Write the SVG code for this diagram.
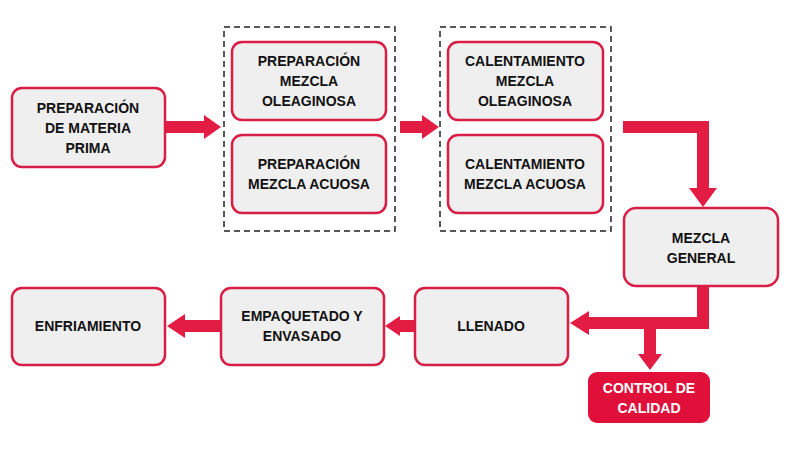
<svg xmlns="http://www.w3.org/2000/svg" width="800" height="450" viewBox="0 0 800 450">
<style>
.n{fill:#efefef;stroke:#d81e45;stroke-width:2.5}
.t{font-family:"Liberation Sans",Arial,sans-serif;font-weight:bold;font-size:14px;fill:#111;text-anchor:middle}
.w{fill:#fff}
.d{fill:none;stroke:#222;stroke-width:1.5;stroke-dasharray:6,4}
.c{fill:none;stroke:#e31c44;stroke-width:12}
.h{fill:#e31c44}
</style>
<rect width="800" height="450" fill="#fff"/>
<g id="groups">
<rect class="d" x="224" y="27" width="171" height="204"/>
<rect class="d" x="440" y="27" width="171" height="204"/>
</g>
<g id="connectors">
<path class="c" d="M165 127H206"/><polygon class="h" points="204,115 221,127 204,139"/>
<path class="c" d="M400 127H424"/><polygon class="h" points="422,115 439,127 422,139"/>
<path class="c" d="M623 127H703V190"/><polygon class="h" points="689,188 717,188 703,207"/>
<path class="c" d="M703 286V323H587"/><polygon class="h" points="589,311 570,323 589,335"/>
<path class="c" d="M650 323V355"/><polygon class="h" points="638,354 662,354 650,370"/>
<path class="c" d="M415 326H398"/><polygon class="h" points="400,316 385,326 400,336"/>
<path class="c" d="M221 326H183"/><polygon class="h" points="185,314 167,326 185,338"/>
</g>
<g id="n1"><rect class="n" x="12" y="88" width="153" height="79" rx="10"/><text class="t" x="88" y="113">PREPARACIÓN</text><text class="t" x="88" y="133">DE MATERIA</text><text class="t" x="88" y="153">PRIMA</text></g>
<g id="n2"><rect class="n" x="232" y="42" width="154" height="78" rx="10"/><text class="t" x="309" y="66">PREPARACIÓN</text><text class="t" x="309" y="86">MEZCLA</text><text class="t" x="309" y="106">OLEAGINOSA</text></g>
<g id="n3"><rect class="n" x="232" y="135" width="154" height="78" rx="10"/><text class="t" x="309" y="169">PREPARACIÓN</text><text class="t" x="309" y="189">MEZCLA ACUOSA</text></g>
<g id="n4"><rect class="n" x="448" y="42" width="155" height="78" rx="10"/><text class="t" x="525" y="66">CALENTAMIENTO</text><text class="t" x="525" y="86">MEZCLA</text><text class="t" x="525" y="106">OLEAGINOSA</text></g>
<g id="n5"><rect class="n" x="448" y="135" width="155" height="78" rx="10"/><text class="t" x="525" y="169">CALENTAMIENTO</text><text class="t" x="525" y="189">MEZCLA ACUOSA</text></g>
<g id="n6"><rect class="n" x="624" y="208" width="154" height="78" rx="12"/><text class="t" x="701" y="243">MEZCLA</text><text class="t" x="701" y="263">GENERAL</text></g>
<g id="n7"><rect class="n" x="415" y="288" width="153" height="77" rx="10"/><text class="t" x="491" y="331">LLENADO</text></g>
<g id="n8"><rect class="n" x="221" y="288" width="163" height="77" rx="10"/><text class="t" x="302" y="321">EMPAQUETADO Y</text><text class="t" x="302" y="341">ENVASADO</text></g>
<g id="n9"><rect class="n" x="12" y="288" width="153" height="77" rx="10"/><text class="t" x="88" y="331">ENFRIAMIENTO</text></g>
<g id="n10"><rect x="588" y="372" width="122" height="51" rx="9" fill="#e0103a"/><text class="t w" x="649" y="393">CONTROL DE</text><text class="t w" x="649" y="413">CALIDAD</text></g>
</svg>
